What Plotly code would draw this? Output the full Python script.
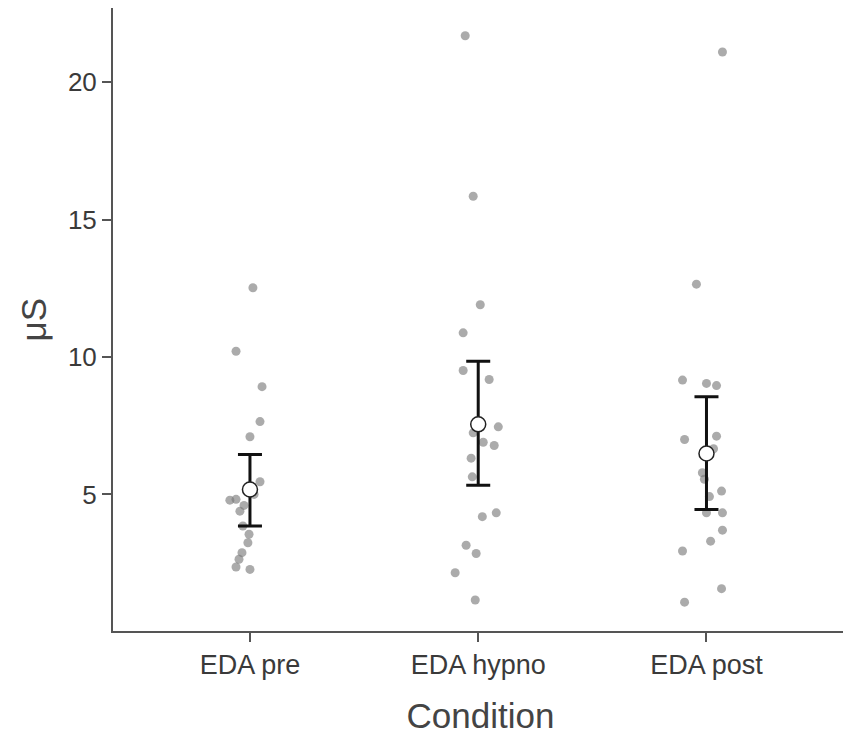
import plotly.graph_objects as go

categories = ["EDA pre", "EDA hypno", "EDA post"]

pre_values = [12.52, 10.21, 8.92, 7.65, 7.10, 5.46, 5.00, 4.79, 4.82, 4.60, 4.39, 3.85, 3.55, 3.24, 2.88, 2.64, 2.36, 2.27]
pre_jitter = [0.013, -0.061, 0.053, 0.044, 0.0, 0.044, 0.018, -0.088, -0.061, -0.026, -0.044, -0.031, -0.004, -0.009, -0.035, -0.048, -0.061, 0.0]

hypno_values = [21.69, 15.85, 11.90, 10.88, 9.51, 9.18, 7.46, 7.24, 6.90, 6.78, 6.32, 5.64, 4.33, 4.19, 3.15, 2.85, 2.15, 1.16]
hypno_jitter = [-0.057, -0.022, 0.009, -0.066, -0.066, 0.048, 0.088, -0.022, 0.022, 0.070, -0.031, -0.026, 0.079, 0.018, -0.053, -0.009, -0.101, -0.013]

post_values = [21.10, 12.65, 9.16, 9.04, 8.96, 7.00, 7.12, 6.66, 5.79, 5.55, 5.12, 4.92, 4.33, 4.33, 3.70, 3.30, 2.94, 1.57, 1.08]
post_jitter = [0.070, -0.044, -0.105, 0.0, 0.044, -0.096, 0.044, 0.031, -0.018, -0.009, 0.066, 0.013, 0.0, 0.070, 0.070, 0.018, -0.105, 0.066, -0.096]

means = [5.18, 7.55, 6.49]
ci_upper = [6.45, 9.85, 8.55]
ci_lower = [3.85, 5.33, 4.45]

y_tickvals = [5, 10, 15, 20]
y_title = "μS"
x_title = "Condition"

fig = go.Figure()

groups = [(pre_values, pre_jitter), (hypno_values, hypno_jitter), (post_values, post_jitter)]
for i, (vals, jit) in enumerate(groups):
    fig.add_trace(go.Scatter(
        x=[i + 1 + j for j in jit], y=vals, mode="markers",
        marker=dict(size=9, color="rgba(120,120,120,0.62)", line=dict(width=0)),
        showlegend=False, hoverinfo="y"))

xs = [1, 2, 3]
fig.add_trace(go.Scatter(
    x=xs, y=means, mode="markers",
    marker=dict(size=1, color="rgba(0,0,0,0)"),
    error_y=dict(type="data", symmetric=False,
                 array=[u - m for u, m in zip(ci_upper, means)],
                 arrayminus=[m - l for m, l in zip(means, ci_lower)],
                 color="#111111", thickness=3, width=12),
    showlegend=False, hoverinfo="skip"))
fig.add_trace(go.Scatter(
    x=xs, y=means, mode="markers",
    marker=dict(size=15, color="white", line=dict(color="#222222", width=1.5)),
    showlegend=False))

axis_color = "#555555"
fig.update_layout(
    width=843, height=729,
    margin=dict(l=105, r=3, t=0, b=106),
    paper_bgcolor="white", plot_bgcolor="white",
    font=dict(family="Liberation Sans, Arial, sans-serif", color="#333333"),
    xaxis=dict(range=[0.4, 3.62], tickvals=xs, ticktext=categories, automargin=False,
               showgrid=False, zeroline=False, showline=True, linecolor=axis_color,
               linewidth=2, ticks="outside", ticklen=9, tickwidth=2, tickcolor=axis_color,
               tickfont=dict(size=27, color="#3a3a3a"),
               title=dict(text=x_title, font=dict(size=35, color="#444444"), standoff=24)),
    yaxis=dict(range=[0.03, 22.7], tickvals=y_tickvals, automargin=False,
               showgrid=False, zeroline=False, showline=True, linecolor=axis_color,
               linewidth=2, ticks="outside", ticklen=9, tickwidth=2, tickcolor=axis_color,
               tickfont=dict(size=26, color="#3a3a3a")),
    annotations=[dict(text=y_title, xref="paper", yref="paper", x=0, y=0.5,
                      xanchor="center", yanchor="middle", xshift=-80, textangle=-90,
                      showarrow=False, font=dict(size=35, color="#444444"))],
)

fig.write_html("out.html")
